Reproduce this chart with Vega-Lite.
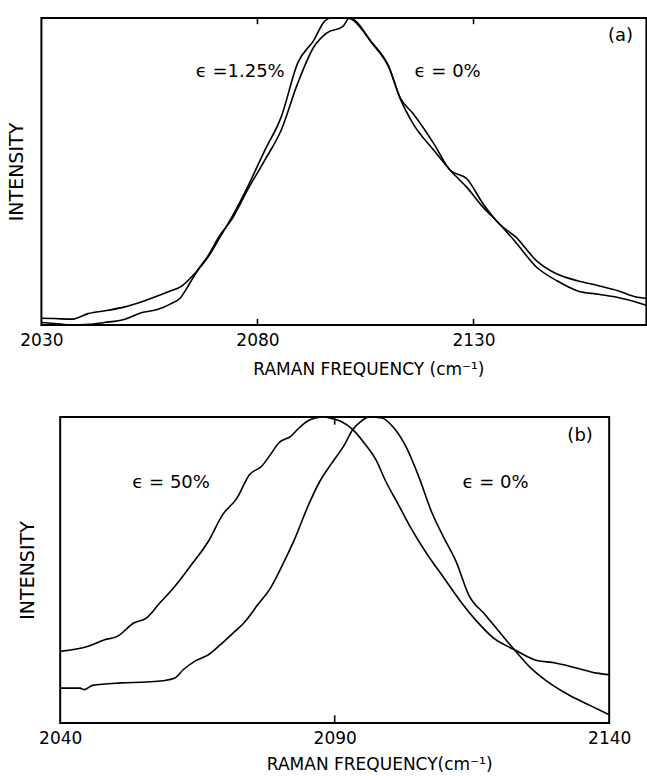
{
  "$schema": "https://vega.github.io/schema/vega-lite/v6.json",
  "padding": {"left": 6, "top": 13, "right": 0, "bottom": 0},
  "background": "white",
  "config": {
    "font": "DejaVu Sans",
    "view": {"stroke": "black", "strokeWidth": 2},
    "axis": {"grid": false, "domain": false, "ticks": false, "labelFont": "DejaVu Sans", "titleFont": "DejaVu Sans", "labelColor": "black", "titleColor": "black", "titleFontWeight": "normal", "format": "d"},
    "line": {"color": "black", "strokeWidth": 1.6, "interpolate": "monotone", "clip": true},
    "rule": {"color": "black", "strokeWidth": 1.6},
    "text": {"font": "DejaVu Sans", "fontSize": 18, "color": "black"}
  },
  "datasets": {
    "a": [
      {"nu": 2030, "I": 0.022, "eps": "1.25"}, {"nu": 2033, "I": 0.021, "eps": "1.25"}, {"nu": 2037, "I": 0.019, "eps": "1.25"},
      {"nu": 2040.8, "I": 0.037, "eps": "1.25"}, {"nu": 2045.5, "I": 0.048, "eps": "1.25"}, {"nu": 2049.3, "I": 0.059, "eps": "1.25"},
      {"nu": 2053.1, "I": 0.075, "eps": "1.25"}, {"nu": 2057, "I": 0.095, "eps": "1.25"}, {"nu": 2059.8, "I": 0.111, "eps": "1.25"},
      {"nu": 2062.2, "I": 0.124, "eps": "1.25"}, {"nu": 2065.5, "I": 0.168, "eps": "1.25"}, {"nu": 2068.4, "I": 0.218, "eps": "1.25"},
      {"nu": 2071.2, "I": 0.283, "eps": "1.25"}, {"nu": 2074.1, "I": 0.352, "eps": "1.25"}, {"nu": 2077.9, "I": 0.455, "eps": "1.25"},
      {"nu": 2081.7, "I": 0.569, "eps": "1.25"}, {"nu": 2085.5, "I": 0.678, "eps": "1.25"}, {"nu": 2089.3, "I": 0.853, "eps": "1.25"},
      {"nu": 2093.1, "I": 0.929, "eps": "1.25"}, {"nu": 2095.5, "I": 0.989, "eps": "1.25"}, {"nu": 2097, "I": 1.0, "eps": "1.25"},
      {"nu": 2100.8, "I": 1.0, "eps": "1.25"}, {"nu": 2101.5, "I": 0.998, "eps": "1.25"}, {"nu": 2106.5, "I": 0.918, "eps": "1.25"},
      {"nu": 2110.3, "I": 0.842, "eps": "1.25"}, {"nu": 2113.1, "I": 0.738, "eps": "1.25"}, {"nu": 2116, "I": 0.689, "eps": "1.25"},
      {"nu": 2120.8, "I": 0.591, "eps": "1.25"}, {"nu": 2124.6, "I": 0.504, "eps": "1.25"}, {"nu": 2128.4, "I": 0.477, "eps": "1.25"},
      {"nu": 2132.2, "I": 0.395, "eps": "1.25"}, {"nu": 2136, "I": 0.329, "eps": "1.25"}, {"nu": 2139.8, "I": 0.286, "eps": "1.25"},
      {"nu": 2144.6, "I": 0.209, "eps": "1.25"}, {"nu": 2149.3, "I": 0.166, "eps": "1.25"}, {"nu": 2154.1, "I": 0.144, "eps": "1.25"},
      {"nu": 2158.9, "I": 0.128, "eps": "1.25"}, {"nu": 2163.6, "I": 0.111, "eps": "1.25"}, {"nu": 2167.4, "I": 0.092, "eps": "1.25"},
      {"nu": 2170, "I": 0.087, "eps": "1.25"},
      {"nu": 2030, "I": 0.008, "eps": "0"}, {"nu": 2033, "I": 0.005, "eps": "0"}, {"nu": 2037, "I": 0.0, "eps": "0"},
      {"nu": 2041, "I": 0.002, "eps": "0"}, {"nu": 2044.6, "I": 0.008, "eps": "0"}, {"nu": 2049.3, "I": 0.019, "eps": "0"},
      {"nu": 2053.1, "I": 0.040, "eps": "0"}, {"nu": 2057, "I": 0.051, "eps": "0"}, {"nu": 2059.8, "I": 0.068, "eps": "0"},
      {"nu": 2062.2, "I": 0.089, "eps": "0"}, {"nu": 2064.5, "I": 0.140, "eps": "0"}, {"nu": 2066.5, "I": 0.185, "eps": "0"},
      {"nu": 2068.4, "I": 0.222, "eps": "0"}, {"nu": 2071.2, "I": 0.290, "eps": "0"}, {"nu": 2074.1, "I": 0.345, "eps": "0"},
      {"nu": 2077.9, "I": 0.445, "eps": "0"}, {"nu": 2081.7, "I": 0.537, "eps": "0"}, {"nu": 2085.5, "I": 0.635, "eps": "0"},
      {"nu": 2089.3, "I": 0.787, "eps": "0"}, {"nu": 2093.1, "I": 0.907, "eps": "0"}, {"nu": 2096, "I": 0.951, "eps": "0"},
      {"nu": 2099.8, "I": 0.973, "eps": "0"}, {"nu": 2101.3, "I": 1.0, "eps": "0"}, {"nu": 2106.5, "I": 0.920, "eps": "0"},
      {"nu": 2110.3, "I": 0.845, "eps": "0"}, {"nu": 2113.1, "I": 0.735, "eps": "0"}, {"nu": 2116, "I": 0.656, "eps": "0"},
      {"nu": 2120.8, "I": 0.569, "eps": "0"}, {"nu": 2124.6, "I": 0.504, "eps": "0"}, {"nu": 2128.4, "I": 0.449, "eps": "0"},
      {"nu": 2132.2, "I": 0.384, "eps": "0"}, {"nu": 2136, "I": 0.329, "eps": "0"}, {"nu": 2139.8, "I": 0.269, "eps": "0"},
      {"nu": 2144.6, "I": 0.188, "eps": "0"}, {"nu": 2149.3, "I": 0.144, "eps": "0"}, {"nu": 2154.1, "I": 0.111, "eps": "0"},
      {"nu": 2158.9, "I": 0.100, "eps": "0"}, {"nu": 2163.6, "I": 0.089, "eps": "0"}, {"nu": 2167.4, "I": 0.076, "eps": "0"},
      {"nu": 2170, "I": 0.064, "eps": "0"}
    ],
    "b": [
      {"nu": 2040, "I": 0.234, "eps": "50"}, {"nu": 2045.1, "I": 0.251, "eps": "50"}, {"nu": 2048.1, "I": 0.272, "eps": "50"},
      {"nu": 2050.4, "I": 0.283, "eps": "50"}, {"nu": 2053.4, "I": 0.327, "eps": "50"}, {"nu": 2055.7, "I": 0.343, "eps": "50"},
      {"nu": 2057.9, "I": 0.387, "eps": "50"}, {"nu": 2060.9, "I": 0.447, "eps": "50"}, {"nu": 2063.9, "I": 0.517, "eps": "50"},
      {"nu": 2067, "I": 0.594, "eps": "50"}, {"nu": 2069.6, "I": 0.681, "eps": "50"}, {"nu": 2072.2, "I": 0.735, "eps": "50"},
      {"nu": 2074.5, "I": 0.812, "eps": "50"}, {"nu": 2076.7, "I": 0.839, "eps": "50"}, {"nu": 2078.3, "I": 0.877, "eps": "50"},
      {"nu": 2079.8, "I": 0.915, "eps": "50"}, {"nu": 2082, "I": 0.937, "eps": "50"}, {"nu": 2083.5, "I": 0.964, "eps": "50"},
      {"nu": 2085, "I": 0.986, "eps": "50"}, {"nu": 2086.5, "I": 0.997, "eps": "50"}, {"nu": 2088, "I": 1.0, "eps": "50"},
      {"nu": 2089.5, "I": 0.995, "eps": "50"}, {"nu": 2091.1, "I": 0.986, "eps": "50"}, {"nu": 2093.3, "I": 0.959, "eps": "50"},
      {"nu": 2095.6, "I": 0.910, "eps": "50"}, {"nu": 2097.5, "I": 0.861, "eps": "50"}, {"nu": 2099.3, "I": 0.790, "eps": "50"},
      {"nu": 2101.6, "I": 0.714, "eps": "50"}, {"nu": 2103.9, "I": 0.637, "eps": "50"}, {"nu": 2106.9, "I": 0.550, "eps": "50"},
      {"nu": 2109.9, "I": 0.474, "eps": "50"}, {"nu": 2112.9, "I": 0.398, "eps": "50"}, {"nu": 2115.9, "I": 0.332, "eps": "50"},
      {"nu": 2118.9, "I": 0.278, "eps": "50"}, {"nu": 2122.7, "I": 0.240, "eps": "50"}, {"nu": 2126.4, "I": 0.207, "eps": "50"},
      {"nu": 2130.2, "I": 0.196, "eps": "50"}, {"nu": 2134, "I": 0.180, "eps": "50"}, {"nu": 2137.7, "I": 0.163, "eps": "50"},
      {"nu": 2140, "I": 0.158, "eps": "50"},
      {"nu": 2040, "I": 0.114, "eps": "0"}, {"nu": 2043.6, "I": 0.114, "eps": "0"}, {"nu": 2044.4, "I": 0.109, "eps": "0"},
      {"nu": 2045.9, "I": 0.123, "eps": "0"}, {"nu": 2051.1, "I": 0.131, "eps": "0"}, {"nu": 2055.7, "I": 0.134, "eps": "0"},
      {"nu": 2058.7, "I": 0.138, "eps": "0"}, {"nu": 2060.9, "I": 0.147, "eps": "0"}, {"nu": 2062.4, "I": 0.174, "eps": "0"},
      {"nu": 2064.7, "I": 0.204, "eps": "0"}, {"nu": 2067, "I": 0.223, "eps": "0"}, {"nu": 2069.2, "I": 0.256, "eps": "0"},
      {"nu": 2071.5, "I": 0.294, "eps": "0"}, {"nu": 2073.7, "I": 0.332, "eps": "0"}, {"nu": 2076, "I": 0.387, "eps": "0"},
      {"nu": 2078.3, "I": 0.441, "eps": "0"}, {"nu": 2080.5, "I": 0.517, "eps": "0"}, {"nu": 2082.8, "I": 0.605, "eps": "0"},
      {"nu": 2085, "I": 0.703, "eps": "0"}, {"nu": 2087.3, "I": 0.790, "eps": "0"}, {"nu": 2089.5, "I": 0.850, "eps": "0"},
      {"nu": 2091.8, "I": 0.910, "eps": "0"}, {"nu": 2093.3, "I": 0.959, "eps": "0"}, {"nu": 2094.8, "I": 0.986, "eps": "0"},
      {"nu": 2096.3, "I": 1.0, "eps": "0"}, {"nu": 2098.6, "I": 0.997, "eps": "0"}, {"nu": 2100.8, "I": 0.964, "eps": "0"},
      {"nu": 2103.1, "I": 0.899, "eps": "0"}, {"nu": 2105.4, "I": 0.801, "eps": "0"}, {"nu": 2107.6, "I": 0.692, "eps": "0"},
      {"nu": 2109.9, "I": 0.605, "eps": "0"}, {"nu": 2112.1, "I": 0.528, "eps": "0"}, {"nu": 2114.4, "I": 0.419, "eps": "0"},
      {"nu": 2117.4, "I": 0.354, "eps": "0"}, {"nu": 2120.4, "I": 0.289, "eps": "0"}, {"nu": 2122.7, "I": 0.240, "eps": "0"},
      {"nu": 2125.7, "I": 0.180, "eps": "0"}, {"nu": 2128.7, "I": 0.136, "eps": "0"}, {"nu": 2132.5, "I": 0.093, "eps": "0"},
      {"nu": 2136.2, "I": 0.060, "eps": "0"}, {"nu": 2140, "I": 0.027, "eps": "0"}
    ],
    "ticksA": [{"nu": 2080}, {"nu": 2130}],
    "ticksB": [{"nu": 2090}],
    "one": [{}]
  },
  "vconcat": [
    {
      "width": 605,
      "height": 307,
      "encoding": {
        "x": {"type": "quantitative", "scale": {"domain": [2030, 2170], "nice": false, "zero": false},
          "axis": {"values": [2030, 2080, 2130], "title": "RAMAN  FREQUENCY (cm⁻¹)",
            "labelFontSize": 17, "labelPadding": 7, "labelFlush": false, "labelOverlap": false,
            "titleFontSize": 17, "titlePadding": 13, "titleX": 327, "titleAlign": "center"}},
        "y": {"type": "quantitative", "scale": {"domain": [0, 1], "nice": false},
          "axis": {"title": "INTENSITY", "labels": false, "titleFontSize": 19, "titlePadding": 15}}
      },
      "layer": [
        {
          "data": {"name": "a"},
          "mark": {"type": "line"},
          "encoding": {"x": {"field": "nu"}, "y": {"field": "I"}, "detail": {"field": "eps"}}
        },
        {
          "data": {"name": "ticksA"},
          "mark": {"type": "rule"},
          "encoding": {"x": {"field": "nu"}, "y": {"datum": 0}, "y2": {"datum": 0.02}}
        },
        {
          "data": {"name": "ticksA"},
          "mark": {"type": "rule"},
          "encoding": {"x": {"field": "nu"}, "y": {"datum": 1}, "y2": {"datum": 0.98}}
        },
        {
          "data": {"name": "one"},
          "mark": {"type": "text"},
          "encoding": {"x": {"datum": 2076}, "y": {"datum": 0.825}, "text": {"value": "ϵ =1.25%"}}
        },
        {
          "data": {"name": "one"},
          "mark": {"type": "text"},
          "encoding": {"x": {"datum": 2124}, "y": {"datum": 0.825}, "text": {"value": "ϵ = 0%"}}
        },
        {
          "data": {"name": "one"},
          "mark": {"type": "text"},
          "encoding": {"x": {"datum": 2164}, "y": {"datum": 0.94}, "text": {"value": "(a)"}}
        }
      ]
    },
    {
      "width": 549,
      "height": 306,
      "encoding": {
        "x": {"type": "quantitative", "scale": {"domain": [2040, 2140], "nice": false, "zero": false},
          "axis": {"values": [2040, 2090, 2140], "title": "RAMAN FREQUENCY(cm⁻¹)",
            "labelFontSize": 17, "labelPadding": 7, "labelFlush": false, "labelOverlap": false,
            "titleFontSize": 17, "titlePadding": 10, "titleX": 319, "titleAlign": "center"}},
        "y": {"type": "quantitative", "scale": {"domain": [0, 1], "nice": false},
          "axis": {"title": "INTENSITY", "labels": false, "titleFontSize": 19, "titlePadding": 23}}
      },
      "layer": [
        {
          "data": {"name": "b"},
          "mark": {"type": "line"},
          "encoding": {"x": {"field": "nu"}, "y": {"field": "I"}, "detail": {"field": "eps"}}
        },
        {
          "data": {"name": "ticksB"},
          "mark": {"type": "rule"},
          "encoding": {"x": {"field": "nu"}, "y": {"datum": 0}, "y2": {"datum": 0.025}}
        },
        {
          "data": {"name": "ticksB"},
          "mark": {"type": "rule"},
          "encoding": {"x": {"field": "nu"}, "y": {"datum": 1}, "y2": {"datum": 0.975}}
        },
        {
          "data": {"name": "one"},
          "mark": {"type": "text"},
          "encoding": {"x": {"datum": 2060.2}, "y": {"datum": 0.784}, "text": {"value": "ϵ = 50%"}}
        },
        {
          "data": {"name": "one"},
          "mark": {"type": "text"},
          "encoding": {"x": {"datum": 2119.3}, "y": {"datum": 0.784}, "text": {"value": "ϵ = 0%"}}
        },
        {
          "data": {"name": "one"},
          "mark": {"type": "text"},
          "encoding": {"x": {"datum": 2134.7}, "y": {"datum": 0.937}, "text": {"value": "(b)"}}
        }
      ]
    }
  ],
  "center": true,
  "spacing": 34
}
